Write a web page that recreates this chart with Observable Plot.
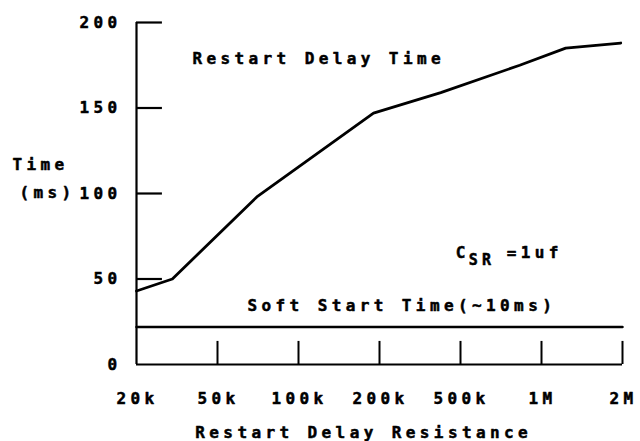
<!DOCTYPE html>
<html>
<head>
<meta charset="utf-8">
<script src="https://cdn.jsdelivr.net/npm/d3@7"></script>
<script src="https://cdn.jsdelivr.net/npm/@observablehq/plot@0.6"></script>
<style>
  html, body { margin: 0; padding: 0; background: #fff; }
</style>
</head>
<body>
<div id="chart"></div>
<script>
// ---- data ----
const xTickValuesK = [20, 50, 100, 200, 500, 1000, 2000];
const xTickLabels = ["20k", "50k", "100k", "200k", "500k", "1M", "2M"];
const yTicks = [0, 50, 100, 150, 200];

const restartResistanceK = [20, 30, 70, 190, 400, 830, 1230, 1970];
const restartDelayMs = [43, 50, 98, 147, 159, 175, 185, 188];

const softStartResistanceK = [20, 2000];
const softStartMs = [22, 22];

// ---- helpers ----
// the axis spaces the tick values evenly; map resistance to tick position piecewise (log between ticks)
const pos = d3.scaleLog().domain(xTickValuesK).range(d3.range(xTickValuesK.length));

const restart = restartResistanceK.map((r, i) => ({r, t: restartDelayMs[i]}));
const soft = softStartResistanceK.map((r, i) => ({r, t: softStartMs[i]}));

const font = {fontFamily: "DejaVu Sans Mono", fontWeight: "bold", fontSize: 16, fill: "black", stroke: "black", strokeWidth: 0.5};

const chart = Plot.plot({
  width: 640,
  height: 441,
  marginLeft: 136,
  marginRight: 18,
  marginTop: 22,
  marginBottom: 77,
  style: {background: "white", letterSpacing: "4.4px", overflow: "visible"},
  x: {type: "linear", domain: [0, xTickValuesK.length - 1], axis: null},
  y: {type: "linear", domain: [0, 200], axis: null},
  marks: [
    // axes frame
    Plot.ruleX([0], {y1: 0, y2: 200, stroke: "black", strokeWidth: 2.2}),
    Plot.ruleY([0], {x1: 0, x2: xTickValuesK.length - 1, stroke: "black", strokeWidth: 2.2}),
    // y ticks (pointing inward)
    Plot.ruleY(yTicks.slice(1), {y: d => d, x1: 0, x2: 0.32, stroke: "black", strokeWidth: 2.2}),
    // x ticks (pointing upward)
    Plot.ruleX(xTickValuesK.slice(1), {x: d => pos(d), y1: 0, y2: 13.5, stroke: "black", strokeWidth: 2}),
    // series
    Plot.line(soft, {x: d => pos(d.r), y: "t", stroke: "black", strokeWidth: 2.5}),
    Plot.line(restart, {x: d => pos(d.r), y: "t", stroke: "black", strokeWidth: 2.8, strokeLinejoin: "round"}),
    // tick labels
    Plot.text(yTicks, {x: 0, y: d => d, text: d => String(d), textAnchor: "end", dx: -15, ...font}),
    Plot.text(xTickLabels, {x: (d, i) => i, y: 0, text: d => d, dy: 34, dx: 1, ...font}),
    // axis titles
    Plot.text(["Time"], {x: 0, y: 116.5, text: d => d, textAnchor: "start", dx: -124, ...font}),
    Plot.text(["(ms)"], {x: 0, y: 100.5, text: d => d, textAnchor: "start", dx: -117, ...font}),
    Plot.text(["Restart Delay Resistance"], {x: 2.78, y: 0, text: d => d, dy: 68, dx: 2, ...font}),
    // annotations
    Plot.text(["Restart Delay Time"], {x: 0.69, y: 179, text: d => d, textAnchor: "start", ...font}),
    Plot.text(["Soft Start Time(~10ms)"], {x: 1.37, y: 34.5, text: d => d, textAnchor: "start", ...font}),
    Plot.text(["C"], {x: 3.94, y: 65.5, text: d => d, textAnchor: "start", ...font}),
    Plot.text(["SR"], {x: 3.94, y: 65.5, text: d => d, textAnchor: "start", dx: 13, dy: 8, ...font, fontSize: 15}),
    Plot.text(["=1uf"], {x: 3.94, y: 65.5, text: d => d, textAnchor: "start", dx: 51, ...font})
  ]
});

document.getElementById("chart").appendChild(chart);
</script>
</body>
</html>
